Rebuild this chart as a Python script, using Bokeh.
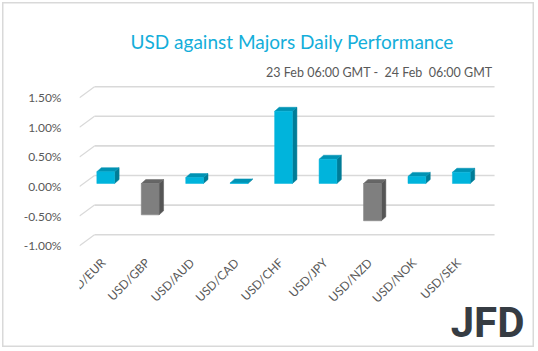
import numpy as np
from bokeh.plotting import figure
from bokeh.models import Range1d, FixedTicker, Title
from bokeh.core.properties import value
from bokeh.embed import file_html
from bokeh.resources import INLINE

# ---- data ----
categories = ["USD/EUR", "USD/GBP", "USD/AUD", "USD/CAD", "USD/CHF",
              "USD/JPY", "USD/NZD", "USD/NOK", "USD/SEK"]
values = [0.20, -0.53, 0.10, 0.01, 1.22, 0.41, -0.63, 0.12, 0.19]
y_ticks = [-1.0, -0.5, 0.0, 0.5, 1.0, 1.5]
y_tick_labels = ["-1.00%", "-0.50%", "0.00%", "0.50%", "1.00%", "1.50%"]
title_text = "USD against Majors Daily Performance"
subtitle_text = "23 Feb 06:00 GMT -\u00a0 24 Feb\u00a0 06:00 GMT"
logo_text = "JFD"

# ---- styling / geometry (3D look) ----
W, H = 536, 349
left_px, top_px = 79, 80
px_x = 44.45   # px per category
px_y = 59.2    # px per 1 %
wall_dx, wall_dy = 15 / px_x, 11 / px_y     # back wall offset
bar_dx, bar_dy = 4 / px_x, 3 / px_y         # bar plane offset
dep_dx, dep_dy = 4.5 / px_x, 4 / px_y       # bar depth
half_w = 0.2
y_top = 1.7905
label_y = -1.25          # where the rotated category labels hang
label_dx = 0.03
logo_x, logo_y = 8.68, -2.30

pos_front, pos_side, pos_top = "#00B4DC", "#007C97", "#0093B4"
neg_front, neg_side, neg_top = "#7F7F7F", "#555555", "#666666"
grid_col = "#D9D9D9"
txt_col = "#595959"

x0 = -0.5
x_wall_end = len(categories) - 0.5 + wall_dx
x_end = x0 + (W - left_px) / px_x
y_start = y_top - (H - top_px) / px_y
p = figure(width=W, height=H, output_backend="svg", toolbar_location=None,
           x_range=Range1d(x0, x_end), y_range=Range1d(y_start, y_top),
           min_border_left=left_px, min_border_right=0, min_border_top=top_px,
           min_border_bottom=0, background_fill_color=None,
           border_fill_color=None, outline_line_color=None)
# chart border drawn by the host element behind the transparent canvas
p.styles = {"background-color": "white",
            "box-shadow": "inset 0 0 0 2px white, inset 0 0 0 3.5px #D9D9D9"}
p.xgrid.visible = False
p.ygrid.visible = False
p.xaxis.visible = False

# back wall gridlines + floor diagonals
gx0 = [x0 + wall_dx] * len(y_ticks)
gx1 = [x_wall_end] * len(y_ticks)
gy = [t + wall_dy for t in y_ticks]
p.segment(x0=gx0, y0=gy, x1=gx1, y1=gy, line_color=grid_col, line_width=1.6)
p.segment(x0=[x0] * len(y_ticks), y0=y_ticks, x1=gx0, y1=gy,
          line_color=grid_col, line_width=1.2)

# bars
idx = np.arange(len(categories))
xs = idx + bar_dx
vals = np.array(values)
left = xs - half_w
right = xs + half_w
bottom = np.minimum(vals, 0) + bar_dy
top = np.maximum(vals, 0) + bar_dy
fronts = [pos_front if v >= 0 else neg_front for v in values]
sides = [pos_side if v >= 0 else neg_side for v in values]
tops = [pos_top if v >= 0 else neg_top for v in values]

side_x = [[r, r + dep_dx, r + dep_dx, r] for r in right]
side_y = [[b, b + dep_dy, t + dep_dy, t] for b, t in zip(bottom, top)]
top_x = [[l, l + dep_dx, r + dep_dx, r] for l, r in zip(left, right)]
top_y = [[t, t + dep_dy, t + dep_dy, t] for t in top]
p.patches(side_x, side_y, fill_color=sides, line_color=sides, line_width=0.5)
p.patches(top_x, top_y, fill_color=tops, line_color=tops, line_width=0.5)
p.quad(left=left, right=right, bottom=bottom, top=top,
       fill_color=fronts, line_color=fronts, line_width=0.5)

# category labels (rotated, hanging under the floor)
p.text(x=idx + label_dx, y=[label_y] * len(categories), text=categories,
       angle=np.pi / 4, text_align="right", text_baseline="middle",
       text_font=value("Lato"), text_font_size="12px", text_color=txt_col)

# y axis
p.yaxis.ticker = FixedTicker(ticks=y_ticks)
p.yaxis.major_label_overrides = {t: s for t, s in zip(y_ticks, y_tick_labels)}
ax = p.yaxis[0]
ax.axis_line_color = None
ax.major_tick_line_color = None
ax.minor_tick_line_color = None
ax.major_label_text_color = txt_col
ax.major_label_text_font = "Lato"
ax.major_label_text_font_size = "12px"
ax.major_label_standoff = 12

# titles
p.add_layout(Title(text=subtitle_text, align="right", text_font="Lato",
                   text_font_size="12.5px", text_font_style="normal",
                   text_color=txt_col, standoff=1, offset=44), "above")
p.add_layout(Title(text=title_text, align="left", text_font="Lato",
                   text_font_size="19px", text_font_style="normal",
                   text_color="#14AEDA", standoff=19, offset=51), "above")

# logo
p.text(x=[logo_x], y=[logo_y], text=[logo_text], text_align="center",
       text_baseline="middle", text_font=value("Roboto"),
       text_font_style="bold", text_font_size="42px", text_color="#363C43")

open("out.html", "w").write(file_html(p, INLINE))
